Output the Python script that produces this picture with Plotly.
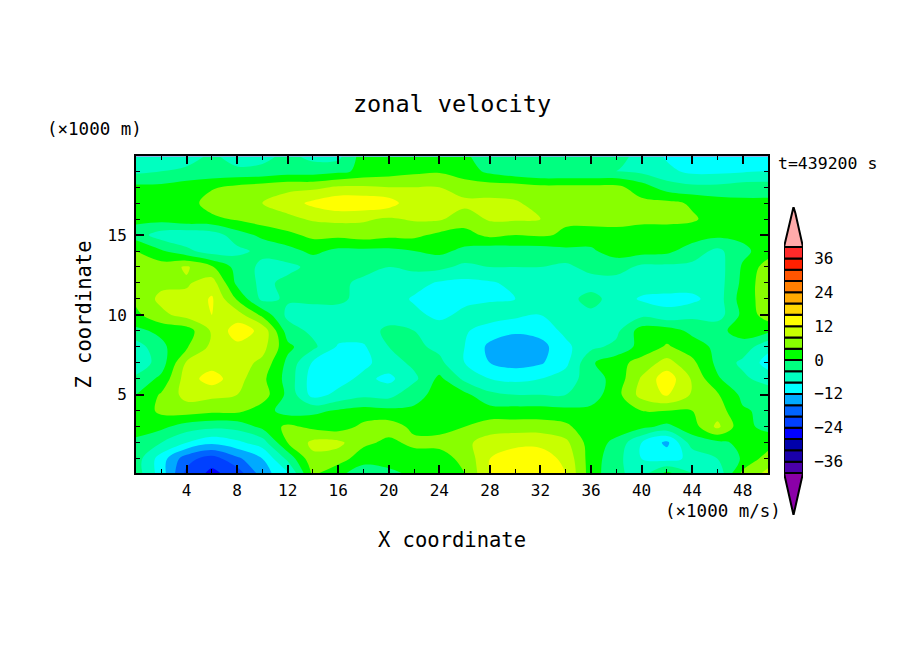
import plotly.graph_objects as go

# grid, x every 2 km, z rows from top to bottom
x_km = [0, 2, 4, 6, 8, 10, 12, 14, 16, 18, 20, 22, 24, 26, 28, 30, 32, 34, 36, 38, 40, 42, 44, 46, 48, 50]
z_km = [19.9, 19, 18, 17, 16, 15, 14, 13, 12, 11, 10, 9, 8, 7, 6, 5, 4, 3, 2, 1, 0.1]

u_wind = [
    [-6, -6, -6, -3, -6, -5, -3, -5, -5, 2, 1, 1, 1, 1, -3, -2, -2, -1, -1, -3, -5, -8.5, -9, -9, -9, -9],
    [-5, -4, -3, -3, -3, -3, -2, -2, -1, 1, 2, 3, 3.5, 2, -1, -3, -4, -4, -4, -4, -5, -7, -9, -9, -8.5, -8],
    [1, 1, 2, 3.5, 5, 6, 7, 7, 8.5, 8.5, 8, 8, 8, 6, 6, 6, 5, 5, 5, 5, 2, -2, -3, -3, -2, -2],
    [1, 1.5, 2, 6, 7, 8, 10, 13, 15, 15, 14, 9, 9, 9, 9, 8.5, 6.5, 6, 6, 5.5, 5, 5, 3.5, 2, 1, 1],
    [1, 1.5, 3, 3, 4.5, 6, 7, 8.5, 9, 8.5, 7.5, 8.5, 8.5, 6, 8.5, 8.5, 8, 4.5, 6, 6, 5, 5, 4.5, 2.5, 1, 1],
    [-2, -6, -7, -6, -2, 1, 3, 5, 5, 6, 5, 5, 3, 2.5, 5, 4, 4.5, 3.5, 1.5, 2, 2, 2, 2, 1, 1, 1],
    [4, 0.5, -3, -6, -5, -3, -1.5, 1, -1, -1, -1, 0, 1, -1, -2.5, -2, -2, -1, -0.5, 1.5, 1.5, 1, -2, -5, -1, 2],
    [5, 6, 8.5, 4.5, -1.5, -5, -5, -3, -2, -2.5, -4, -3, -3, -5, -4, -4, -4, -5, -2.5, -2, -5, -5, -5, -6, 0.5, 6],
    [5, 7, 7.5, 10, -1, -5, -3, -3, -3, -5, -6, -6.5, -8.5, -9, -8.5, -7, -7, -6, -6, -6, -6, -6, -6, -6, 1, 7],
    [5, 9, 9, 12.5, 3.5, -5, -3.5, -3.5, -3, -5.5, -6, -8.5, -9.5, -9, -8.5, -8, -7.5, -5.5, -2.5, -6, -8.5, -9, -9, -6, 2, 6],
    [3, 7, 9.5, 12, 10, 3, -5, -5, -6, -6, -6, -7, -9, -7, -6, -7, -8, -6, -5, -4, -5, -7, -5, -6, 1, 6],
    [-1, 1, 2, 8.5, 14, 11, -2, -5, -6, -6, -3, -4, -6, -7.5, -10, -11.5, -10.5, -7, -6, -5, 2, 2, -1, -1, 1.5, 1],
    [-6, -1, 3.5, 9, 11, 9.5, 1, -3, -8.5, -8.5, -4, -3, -5, -8, -13, -14, -13.5, -9, -5, -3, 1.5, 4.5, 2, -1, -1.5, -7],
    [-7, -2, 8.5, 10, 10, 7, -1, -8.5, -10, -9, -6, -3, -3, -8, -12, -13.5, -12.5, -9, -0.5, 2.5, 5.5, 9.5, 5, -1, -5, -9.5],
    [-3, 1, 10, 14, 9.5, 5, -1.5, -10, -9.5, -7, -9, -5, 1, -5, -8, -9, -8, -6, -2, 1.5, 8.5, 14.5, 7.5, 0.5, -3, -6],
    [0, 4.5, 9.5, 9, 8, 6, -1, -9.5, -7, -5, -5.5, -1, 1, 1, -3, -4, -4, -4, -2, 2.5, 9.5, 12.5, 7.5, 4.5, -1, -1],
    [1, 5, 6, 5, 5, 2, -2, -1, 0.5, 1.5, 1, 0.5, 0.5, 1.5, 1.5, 1.5, 1.5, 1, 1, 3, 4, 4, 4, 6, 0.5, -1],
    [2, 1, -2, -3, -2.5, 1, 5, 3, 2, 5, 6, 3, 3, 4, 6, 6, 6, 5, 1, 2, 1, -1, 2, 9, 1, -1],
    [-1, -4, -8, -11, -9, -6, 4, 9, 9, 5, 3, 5, 5, 7, 10, 11, 11, 9, 2, -1, -8, -13, -2, -1, 1, 2],
    [-2, -10, -18.5, -22, -17, -12, -3, 7, 6, 1.5, 2, 2, 2.5, 5, 12, 14, 14, 11, 2, -2.5, -8, -9.5, -7, -4, 0.5, 6],
    [-2, -10, -21, -25, -22, -14, -8.5, 5, 1, -2, -1, 1, 1, 4, 12, 15, 15, 12, 2, -3, -6, 1, -4, -7, 5, 9],
]

# colour bar, bottom to top, one colour per 4 unit band
levels = [-40, -36, -32, -28, -24, -20, -16, -12, -8, -4, 0, 4, 8, 12, 16, 20, 24, 28, 32, 36, 40]
band_colors = [
    "#4b00aa", "#1a00aa", "#0000aa", "#0000ff", "#0040ff", "#0064ff", "#00aaff", "#00ffff", "#00ffc0", "#00ff80",
    "#00ff00", "#88ff00", "#c8ff00", "#ffff00", "#ffd700", "#ffaa00", "#ff7f00", "#ff5500", "#ff2000", "#ff2a2a",
]
under_color = "#8b00a8"
over_color = "#ffaaaa"

x_ticks = [4, 8, 12, 16, 20, 24, 28, 32, 36, 40, 44, 48]
x_minor = [2, 6, 10, 14, 18, 22, 26, 30, 34, 38, 42, 46, 50]
z_ticks = [5, 10, 15]
z_minor = [1, 2, 3, 4, 6, 7, 8, 9, 11, 12, 13, 14, 16, 17, 18, 19]
bar_ticks = [-36, -24, -12, 0, 12, 24, 36]

W, H = 904, 654
FONT = "DejaVu Sans Mono"

scale = []
for i, c in enumerate(band_colors):
    scale.append([i / len(band_colors), c])
    scale.append([(i + 1) / len(band_colors), c])

fig = go.Figure()
fig.add_trace(go.Contour(
    x=x_km,
    y=z_km,
    z=u_wind,
    zmin=-40,
    zmax=40,
    colorscale=scale,
    showscale=False,
    autocontour=False,
    contours=dict(start=-40, end=40, size=4, coloring="fill", showlines=False),
    line=dict(width=0),
    hoverinfo="skip",
))

# colour bar drawn on its own small axes
fig.add_trace(go.Bar(
    x=[0.5] * len(band_colors),
    y=[4] * len(band_colors),
    base=levels[:-1],
    width=1,
    marker=dict(color=band_colors, line=dict(color="black", width=2)),
    xaxis="x2",
    yaxis="y2",
    hoverinfo="skip",
))
fig.add_trace(go.Scatter(
    x=[0, 0.1, 0.4, 0.5, 0.6, 0.9, 1, 0],
    y=[40, 43, 52, 54.2, 52, 43, 40, 40],
    fill="toself", fillcolor=over_color, mode="lines",
    line=dict(color="black", width=2),
    xaxis="x2", yaxis="y2", hoverinfo="skip",
))
fig.add_trace(go.Scatter(
    x=[0, 0.1, 0.4, 0.5, 0.6, 0.9, 1, 0],
    y=[-40, -43, -52, -54.9, -52, -43, -40, -40],
    fill="toself", fillcolor=under_color, mode="lines",
    line=dict(color="black", width=2),
    xaxis="x2", yaxis="y2", hoverinfo="skip",
))

fig.update_layout(
    width=W, height=H,
    margin=dict(l=0, r=0, t=0, b=0),
    paper_bgcolor="white", plot_bgcolor="white",
    showlegend=False,
    barmode="overlay",
    font=dict(family=FONT, color="black"),
    title=dict(text="zonal velocity", x=0.5, xanchor="center", y=1 - 104 / H, yanchor="middle",
               font=dict(size=23.5, family=FONT)),
    xaxis=dict(
        domain=[136 / W, 768 / W], range=[0, 50], tickmode="array", tickvals=x_ticks,
        ticks="inside", ticklen=8, tickwidth=2, tickcolor="black",
        mirror="allticks", showline=True, linecolor="black", linewidth=2, showgrid=False, zeroline=False,
        tickfont=dict(size=16), ticklabelstandoff=2,
        minor=dict(tickmode="array", tickvals=x_minor, ticks="inside", ticklen=4, tickwidth=1, tickcolor="black", showgrid=False),
        title=dict(text="X coordinate", font=dict(size=20.5), standoff=33),
    ),
    yaxis=dict(
        domain=[(H - 473) / H, (H - 156) / H], range=[0.1, 19.95], tickmode="array", tickvals=z_ticks,
        ticks="inside", ticklen=8, tickwidth=2, tickcolor="black",
        mirror="allticks", showline=True, linecolor="black", linewidth=2, showgrid=False, zeroline=False,
        tickfont=dict(size=16), ticklabelstandoff=4,
        minor=dict(tickmode="array", tickvals=z_minor, ticks="inside", ticklen=4, tickwidth=1, tickcolor="black", showgrid=False),
        title=dict(text="Z coordinate", font=dict(size=20.5), standoff=10),
    ),
    xaxis2=dict(domain=[784 / W, 803 / W], range=[0, 1], anchor="y2", visible=False, fixedrange=True),
    yaxis2=dict(
        domain=[(H - 515) / H, (H - 207) / H], range=[-54.9, 54.2], anchor="x2", side="right",
        tickmode="array", tickvals=bar_ticks, ticks="outside", ticklen=7, tickcolor="rgba(0,0,0,0)",
        showgrid=False, zeroline=False, showline=False, tickfont=dict(size=16),
    ),
    annotations=[
        dict(text="(×1000 m)", x=45 / W, y=1 - 129 / H, xref="paper", yref="paper", xanchor="left", yanchor="middle",
             showarrow=False, font=dict(size=17.5)),
        dict(text="t=439200 s", x=776 / W, y=1 - 163 / H, xref="paper", yref="paper", xanchor="left", yanchor="middle",
             showarrow=False, font=dict(size=16.5)),
        dict(text="(×1000 m/s)", x=783 / W, y=1 - 511 / H, xref="paper", yref="paper", xanchor="right", yanchor="middle",
             showarrow=False, font=dict(size=17.5)),
    ],
)

fig.write_html("out.html", config={"displayModeBar": False},
               post_script="document.body.style.margin='0';document.body.style.overflow='hidden';")
